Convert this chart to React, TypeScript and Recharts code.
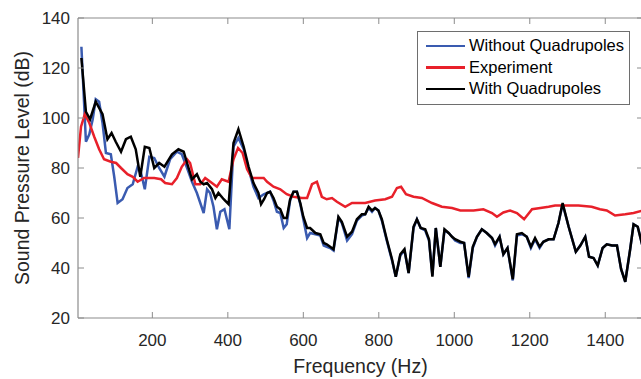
import { LineChart, Line, XAxis, YAxis, Legend } from 'recharts'

// Without Quadrupoles (blue)
const withoutFreq = [
  12, 24, 33, 42, 50, 59, 68, 77, 90, 99,
  108, 121, 134, 148, 161, 170, 180, 192, 205, 218,
  232, 247, 265, 278, 292, 305, 318, 327, 336, 345,
  353, 362, 371, 380, 391, 404, 415, 428, 442, 455,
  468, 481, 495, 504, 512, 521, 530, 539, 548, 556,
  565, 574, 583, 592, 600, 610, 618, 632, 645, 654,
  662, 671, 680, 693, 702, 716, 729, 742, 755, 764,
  773, 782, 790, 799, 808, 821, 835, 845, 857, 868,
  879, 892, 901, 911, 923, 933, 942, 951, 963, 974,
  985, 994, 1002, 1016, 1026, 1038, 1049, 1060, 1073, 1086,
  1100, 1108, 1120, 1130, 1141, 1155, 1166, 1179, 1192, 1203,
  1214, 1226, 1236, 1250, 1263, 1276, 1287, 1303, 1322, 1334,
  1347, 1357, 1369, 1380, 1393, 1404, 1418, 1431, 1442, 1453,
  1466, 1475, 1486, 1500,
]
const withoutSpl = [
  128.5, 90.5, 93.5, 99.5, 107.5, 106.5, 98, 86, 85.5, 76.5,
  66, 67.5, 72, 73.5, 80.5, 78, 71.5, 84.5, 84, 80,
  76.5, 83.5, 86.5, 85.5, 80, 74.5, 70, 66, 62, 71.5,
  70, 64.5, 55.5, 62.5, 63.5, 55.5, 88.5, 92, 87.5, 79.5,
  72.5, 68, 69.5, 70, 70.5, 67, 62.5, 62, 56, 57.5,
  67, 70.5, 70.5, 65.5, 59.5, 52, 54, 53.5, 53, 49,
  48.5, 48, 47, 60, 58, 51, 53.5, 59, 61, 61.5,
  64, 62.5, 64, 63, 59, 51, 43, 36.5, 45, 47,
  38, 56, 59.5, 56, 55, 51, 37, 56, 40.5, 55,
  54, 52.5, 51, 50, 50, 36, 48, 52.5, 55.5, 54,
  52, 49, 52.5, 45.5, 48, 35, 53, 53.5, 52.5, 48,
  51.5, 48, 50.5, 51.5, 51.5, 58, 65.5, 56.5, 46.5, 49,
  52.5, 44.5, 44, 41, 48, 49.5, 49, 49, 39.5, 34.5,
  47.5, 57.5, 56.5, 48,
]

// Experiment (red)
const expFreq = [
  3, 11, 21, 33, 46, 59, 72, 90, 104, 117,
  134, 148, 161, 178, 205, 223, 234, 252, 265, 278,
  292, 300, 314, 327, 340, 358, 371, 384, 402, 415,
  427, 439, 451, 464, 481, 495, 504, 521, 539, 556,
  574, 596, 610, 623, 636, 649, 662, 676, 689, 711,
  729, 746, 764, 790, 817, 835, 848, 859, 872, 892,
  914, 941, 967, 994, 1016, 1051, 1077, 1100, 1113, 1130,
  1148, 1166, 1185, 1206, 1228, 1250, 1267, 1294, 1329, 1364,
  1386, 1404, 1426, 1453, 1475, 1500,
]
const expSpl = [
  84, 96.5, 101.5, 98, 92.5, 87.5, 83.5, 82.5, 82, 80,
  77.5, 76.5, 74.5, 76, 76, 75.5, 74, 73.5, 76, 80.5,
  83.5, 82, 73.5, 73.5, 76, 74, 72.5, 75.5, 74.5, 83.5,
  88, 86, 79.5, 76, 76, 76, 74.5, 72.5, 71.5, 69.5,
  68.5, 68, 68, 73.5, 74.5, 68.5, 67.5, 68, 66.5, 64.5,
  66, 66, 66, 67, 67.5, 68.5, 72, 72.5, 69.5, 68.5,
  68, 66, 64.5, 64, 63, 63, 63.5, 62, 60.5, 62.2,
  63, 62, 59.5, 63.5, 64, 64.5, 65, 65, 65, 64.5,
  63.5, 63, 61, 61.5, 62, 63,
]

// With Quadrupoles (black)
const withFreq = [
  12, 24, 35, 50, 68, 81, 92, 103, 117, 130,
  143, 156, 168, 180, 192, 205, 218, 232, 252, 269,
  283, 291, 305, 318, 327, 336, 345, 358, 367, 375,
  389, 402, 415, 428, 442, 455, 468, 481, 488, 496,
  504, 512, 521, 530, 539, 548, 556, 565, 574, 583,
  592, 600, 610, 618, 632, 645, 654, 662, 671, 680,
  693, 702, 716, 729, 742, 755, 764, 773, 782, 790,
  799, 808, 821, 835, 845, 857, 868, 879, 892, 901,
  911, 923, 933, 942, 951, 963, 974, 985, 994, 1002,
  1016, 1026, 1038, 1049, 1060, 1073, 1086, 1100, 1108, 1120,
  1130, 1141, 1155, 1166, 1179, 1192, 1203, 1214, 1226, 1236,
  1250, 1263, 1276, 1287, 1303, 1322, 1334, 1347, 1357, 1369,
  1380, 1393, 1404, 1418, 1431, 1442, 1453, 1466, 1475, 1486,
  1500,
]
const withSpl = [
  124, 102.5, 99.5, 106.5, 101.5, 91.5, 94, 90.5, 86.5, 91.5,
  92.5, 87.5, 76.5, 88.5, 88, 80, 82, 80.5, 85.5, 87.5,
  86.5, 82.5, 75.5, 77.5, 74.5, 73.5, 74, 71.5, 68, 70,
  67.5, 65.5, 90, 95.5, 88.5, 80.5, 74, 70, 65.5, 67.5,
  70, 70.5, 68, 64.5, 63.5, 60, 60, 67.5, 70.5, 70.5,
  66, 60.5, 56, 56, 54, 53.5, 50, 49.5, 48.5, 47.5,
  60.5, 58.5, 52.5, 54.5, 59.5, 61.5, 61.5, 64.5, 63, 64,
  63, 59.5, 51.5, 43.5, 36.5, 45.5, 47.5, 38, 56.5, 59.5,
  56, 55.5, 51.5, 36.5, 56, 40.5, 55.5, 54, 52.5, 51.5,
  50.5, 50, 36.5, 48.5, 52.5, 55.5, 54, 52, 49.5, 52.5,
  45.5, 48, 35.5, 53.5, 54, 52.5, 48.5, 52, 48.5, 50.5,
  51.5, 51.5, 58, 66, 56.5, 46.5, 49, 52.5, 44.5, 44,
  41, 48, 49.5, 49, 49, 39.5, 34.5, 47.5, 57.5, 56.5,
  48,
]

const seriesNames = ['Without Quadrupoles', 'Experiment', 'With Quadrupoles']
const seriesColors = ['#3a5bb0', '#e8202a', '#000000']

const xTicks = [200, 400, 600, 800, 1000, 1200, 1400]
const yTicks = [20, 40, 60, 80, 100, 120, 140]

const AXIS = '#8c8c8c'
const TEXT = '#262626'
const FONT = '"Liberation Sans", Arial, Helvetica, sans-serif'
const TICK_LEN = 6

const toPoints = (freq: number[], spl: number[]) =>
  freq.map((f, i) => ({ f, spl: spl[i] }))

const withoutData = toPoints(withoutFreq, withoutSpl)
const expData = toPoints(expFreq, expSpl)
const withData = toPoints(withFreq, withSpl)

// ticks drawn inward, MATLAB style
const BOTTOM_GAP = 28
const BottomTick = ({ x, y, payload }: any) => (
  <g>
    <line x1={x} x2={x} y1={y - BOTTOM_GAP} y2={y - BOTTOM_GAP - TICK_LEN} stroke={AXIS} />
    <text x={x} y={y} textAnchor="middle" fill={TEXT} fontSize={17} fontFamily={FONT}>
      {payload.value}
    </text>
  </g>
)

const TopTick = ({ x, y }: any) => (
  <line x1={x} x2={x} y1={y} y2={y + TICK_LEN} stroke={AXIS} />
)

const LEFT_GAP = 8
const LeftTick = ({ x, y, payload }: any) => (
  <g>
    <line x1={x + LEFT_GAP} x2={x + LEFT_GAP + TICK_LEN} y1={y} y2={y} stroke={AXIS} />
    <text x={x} y={y + 6} textAnchor="end" fill={TEXT} fontSize={17} fontFamily={FONT}>
      {payload.value}
    </text>
  </g>
)

const RightTick = ({ x, y }: any) => (
  <line x1={x} x2={x - TICK_LEN} y1={y} y2={y} stroke={AXIS} />
)

const XTitle = ({ viewBox }: any) => (
  <text
    x={viewBox.x + viewBox.width / 2}
    y={viewBox.y + 55}
    textAnchor="middle"
    fill={TEXT}
    fontSize={19.5}
    fontFamily={FONT}
  >
    Frequency (Hz)
  </text>
)

const YTitle = ({ viewBox }: any) => {
  const cx = viewBox.x + 22
  const cy = viewBox.y + viewBox.height / 2
  return (
    <text
      x={cx}
      y={cy}
      transform={`rotate(-90 ${cx} ${cy})`}
      textAnchor="middle"
      dominantBaseline="central"
      fill={TEXT}
      fontSize={19.5}
      fontFamily={FONT}
    >
      Sound Pressure Level (dB)
    </text>
  )
}

const LegendBox = () => (
  <div
    style={{
      boxSizing: 'border-box',
      width: 213,
      border: '1px solid #6e6e6e',
      background: '#fff',
      padding: '3px 0 4px 8px',
      fontFamily: FONT,
      fontSize: 16.5,
      color: '#000',
    }}
  >
    {seriesNames.map((name, i) => (
      <div key={name} style={{ display: 'flex', alignItems: 'center', height: 21.5 }}>
        <span
          style={{
            display: 'inline-block',
            width: 39,
            height: 2.5,
            background: seriesColors[i],
            marginRight: 4,
          }}
        />
        <span>{name}</span>
      </div>
    ))}
  </div>
)

export default function App() {
  return (
    <div
      style={{
        position: 'absolute',
        left: 0,
        top: 0,
        width: 641,
        height: 379,
        overflow: 'hidden',
        background: '#fff',
      }}
    >
      <LineChart width={660} height={379} margin={{ top: 0, right: 0, bottom: 0, left: 0 }}>
        <XAxis
          xAxisId="b"
          dataKey="f"
          type="number"
          domain={[3, 1500]}
          ticks={xTicks}
          allowDataOverflow
          height={61}
          tickSize={0}
          tickMargin={BOTTOM_GAP}
          tickLine={false}
          axisLine={{ stroke: AXIS, strokeWidth: 1.2 }}
          tick={<BottomTick />}
          label={<XTitle />}
        />
        <XAxis
          xAxisId="t"
          orientation="top"
          dataKey="f"
          type="number"
          domain={[3, 1500]}
          ticks={xTicks}
          allowDataOverflow
          height={18}
          tickSize={0}
          tickMargin={0}
          tickLine={false}
          axisLine={{ stroke: AXIS, strokeWidth: 1.2 }}
          tick={<TopTick />}
        />
        <YAxis
          yAxisId="l"
          type="number"
          domain={[20, 140]}
          ticks={yTicks}
          allowDataOverflow
          width={78}
          tickSize={0}
          tickMargin={LEFT_GAP}
          tickLine={false}
          axisLine={{ stroke: AXIS, strokeWidth: 1.2 }}
          tick={<LeftTick />}
          label={<YTitle />}
        />
        <YAxis
          yAxisId="r"
          orientation="right"
          type="number"
          domain={[20, 140]}
          ticks={yTicks}
          allowDataOverflow
          width={17}
          tickSize={0}
          tickMargin={0}
          tickLine={false}
          axisLine={{ stroke: AXIS, strokeWidth: 1.2 }}
          tick={<RightTick />}
        />
        <Legend
          layout="vertical"
          align="center"
          verticalAlign="middle"
          wrapperStyle={{ left: 417, top: 31, width: 213 }}
          content={<LegendBox />}
        />
        <Line
          xAxisId="b"
          yAxisId="l"
          data={withoutData}
          dataKey="spl"
          name={seriesNames[0]}
          type="linear"
          stroke={seriesColors[0]}
          strokeWidth={2.5}
          dot={false}
          isAnimationActive={false}
        />
        <Line
          xAxisId="b"
          yAxisId="l"
          data={expData}
          dataKey="spl"
          name={seriesNames[1]}
          type="linear"
          stroke={seriesColors[1]}
          strokeWidth={2.5}
          dot={false}
          isAnimationActive={false}
        />
        <Line
          xAxisId="b"
          yAxisId="l"
          data={withData}
          dataKey="spl"
          name={seriesNames[2]}
          type="linear"
          stroke={seriesColors[2]}
          strokeWidth={2.5}
          dot={false}
          isAnimationActive={false}
        />
      </LineChart>
    </div>
  )
}
